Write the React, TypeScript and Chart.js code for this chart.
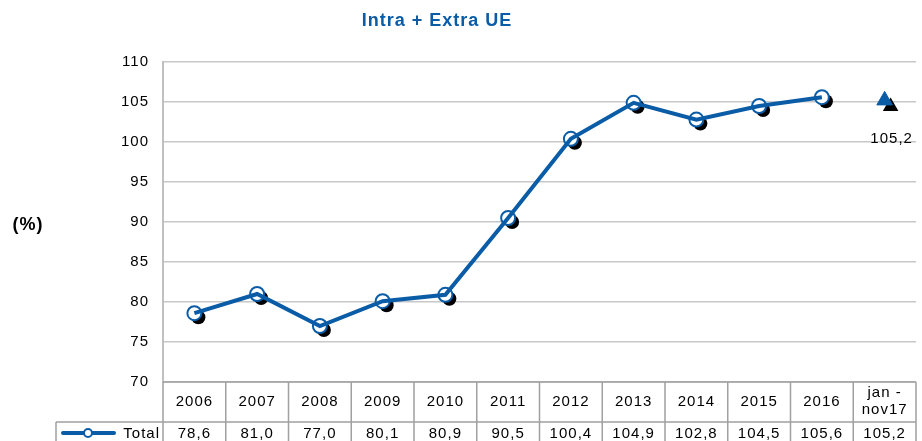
import { useEffect, useRef } from 'react';
import { Chart, registerables } from 'chart.js';

Chart.register(...registerables);

const categories = ['2006', '2007', '2008', '2009', '2010', '2011', '2012', '2013', '2014', '2015', '2016', 'jan -\nnov17'];
const totalValues = [78.6, 81.0, 77.0, 80.1, 80.9, 90.5, 100.4, 104.9, 102.8, 104.5, 105.6, 105.2];
const lineValues = [78.6, 81.0, 77.0, 80.1, 80.9, 90.5, 100.4, 104.9, 102.8, 104.5, 105.6, null];
const partialValues = [null, null, null, null, null, null, null, null, null, null, null, 105.2];
const yMin = 70;
const yMax = 110;
const yStep = 5;
const titleText = 'Intra + Extra UE';
const yAxisTitle = '(%)';
const seriesName = 'Total';

const FONT = '"Liberation Sans", Arial, sans-serif';
const BLUE = '#0a5ca6';
const W = 926;
const H = 470;

const fmt = (v: number) => v.toFixed(1).replace('.', ',');

const decoPlugin = {
  id: 'deco',
  beforeDraw(chart: any) {
    chart.ctx.letterSpacing = '1px';
  },
  beforeDatasetDraw(chart: any, args: any) {
    const ctx = chart.ctx;
    const meta = chart.getDatasetMeta(args.index);
    if (args.index === 1) {
      ctx.save();
      ctx.fillStyle = '#000';
      meta.data.forEach((el: any, i: number) => {
        if (lineValues[i] == null) return;
        ctx.beginPath();
        ctx.arc(el.x + 4, el.y + 4, 7, 0, Math.PI * 2);
        ctx.fill();
      });
      ctx.restore();
    }
    if (args.index === 2) {
      ctx.save();
      ctx.fillStyle = '#000';
      meta.data.forEach((el: any, i: number) => {
        if (partialValues[i] == null) return;
        const r = 9;
        const x = el.x + 6;
        const y = el.y + 6;
        ctx.beginPath();
        ctx.moveTo(x, y - r);
        ctx.lineTo(x + r * Math.sin((2 * Math.PI) / 3), y - r * Math.cos((2 * Math.PI) / 3));
        ctx.lineTo(x + r * Math.sin((4 * Math.PI) / 3), y - r * Math.cos((4 * Math.PI) / 3));
        ctx.closePath();
        ctx.fill();
      });
      ctx.restore();
    }
  },
  afterDraw(chart: any) {
    const ctx = chart.ctx;
    const area = chart.chartArea;
    const xs = chart.scales.x;
    ctx.save();
    ctx.letterSpacing = '1px';
    // title
    ctx.fillStyle = BLUE;
    ctx.font = `bold 18px ${FONT}`;
    ctx.textAlign = 'center';
    ctx.textBaseline = 'middle';
    ctx.fillText(titleText, 437, 21);
    // y axis title
    ctx.fillStyle = '#000';
    ctx.font = `bold 18px ${FONT}`;
    ctx.fillText(yAxisTitle, 28, 225);

    // label of the partial-year point
    const meta2 = chart.getDatasetMeta(2);
    ctx.font = `15px ${FONT}`;
    meta2.data.forEach((el: any, i: number) => {
      if (partialValues[i] == null) return;
      ctx.fillText(fmt(partialValues[i] as number), el.x + 7, el.y + 38);
    });

    // data table
    const n = categories.length;
    const colW = (area.right - area.left) / n;
    const top = area.bottom;
    const mid = top + 40;
    const bottom = mid + 40;
    const legendLeft = 56;
    ctx.strokeStyle = '#a0a0a0';
    ctx.lineWidth = 1.5;
    ctx.beginPath();
    ctx.moveTo(area.left, top);
    ctx.lineTo(area.right, top);
    ctx.moveTo(legendLeft, mid);
    ctx.lineTo(area.right, mid);
    ctx.moveTo(legendLeft, bottom);
    ctx.lineTo(area.right, bottom);
    for (let i = 0; i <= n; i++) {
      const x = area.left + i * colW;
      ctx.moveTo(x, top);
      ctx.lineTo(x, bottom);
    }
    ctx.moveTo(legendLeft, mid);
    ctx.lineTo(legendLeft, bottom);
    ctx.stroke();

    ctx.fillStyle = '#000';
    ctx.font = `15px ${FONT}`;
    ctx.textAlign = 'center';
    ctx.textBaseline = 'middle';
    categories.forEach((c, i) => {
      const cx = xs.getPixelForValue(i);
      const lines = c.split('\n');
      if (lines.length === 1) {
        ctx.fillText(lines[0], cx, top + 20);
      } else {
        ctx.fillText(lines[0], cx, top + 11);
        ctx.fillText(lines[1], cx, top + 28);
      }
      ctx.fillText(fmt(totalValues[i]), cx, mid + 12);
    });

    // legend key
    ctx.strokeStyle = BLUE;
    ctx.lineWidth = 4;
    ctx.lineCap = 'round';
    ctx.beginPath();
    ctx.moveTo(63, mid + 11);
    ctx.lineTo(114, mid + 11);
    ctx.stroke();
    ctx.beginPath();
    ctx.arc(88, mid + 11, 4, 0, Math.PI * 2);
    ctx.fillStyle = '#fff';
    ctx.fill();
    ctx.lineWidth = 2;
    ctx.stroke();
    ctx.fillStyle = '#000';
    ctx.textAlign = 'right';
    ctx.fillText(seriesName, 160, mid + 12);
    ctx.restore();
  },
};

export default function App() {
  const ref = useRef<HTMLCanvasElement | null>(null);
  useEffect(() => {
    document.body.style.overflow = 'hidden';
    const canvas = ref.current;
    if (!canvas) return;
    const chart = new Chart(canvas, {
      type: 'line',
      data: {
        labels: categories,
        datasets: [
          {
            label: seriesName,
            data: lineValues,
            borderColor: BLUE,
            borderWidth: 4,
            pointRadius: 0,
            fill: false,
            tension: 0,
          },
          {
            label: seriesName + ' points',
            data: lineValues,
            showLine: false,
            pointRadius: 7,
            pointBorderWidth: 2,
            pointBackgroundColor: '#ffffff',
            pointBorderColor: BLUE,
          },
          {
            label: 'jan-nov17',
            data: partialValues,
            showLine: false,
            pointStyle: 'triangle',
            pointRadius: 9,
            pointBorderWidth: 1,
            pointBackgroundColor: BLUE,
            pointBorderColor: BLUE,
          },
        ],
      },
      options: {
        responsive: false,
        animation: false,
        layout: { padding: { left: 0, top: 62, right: 1.6, bottom: H - 382 } },
        plugins: {
          legend: { display: false },
          title: { display: false },
          tooltip: { enabled: false },
        },
        scales: {
          x: {
            type: 'category',
            offset: true,
            display: false,
          },
          y: {
            min: yMin,
            max: yMax,
            afterFit(scale: any) {
              scale.width = 163;
            },
            ticks: {
              stepSize: yStep,
              color: '#000',
              font: { family: FONT, size: 15 },
              padding: 14,
            },
            grid: {
              color: '#c8c8c8',
              lineWidth: 1.5,
              drawTicks: false,
            },
            border: { display: true, color: '#c0c0c0', width: 2 },
          },
        },
      },
      plugins: [decoPlugin],
    });
    return () => chart.destroy();
  }, []);
  return (
    <div style={{ position: 'absolute', left: 0, top: 0, width: W, height: H, background: '#fff' }}>
      <canvas ref={ref} width={W} height={H} />
    </div>
  );
}
